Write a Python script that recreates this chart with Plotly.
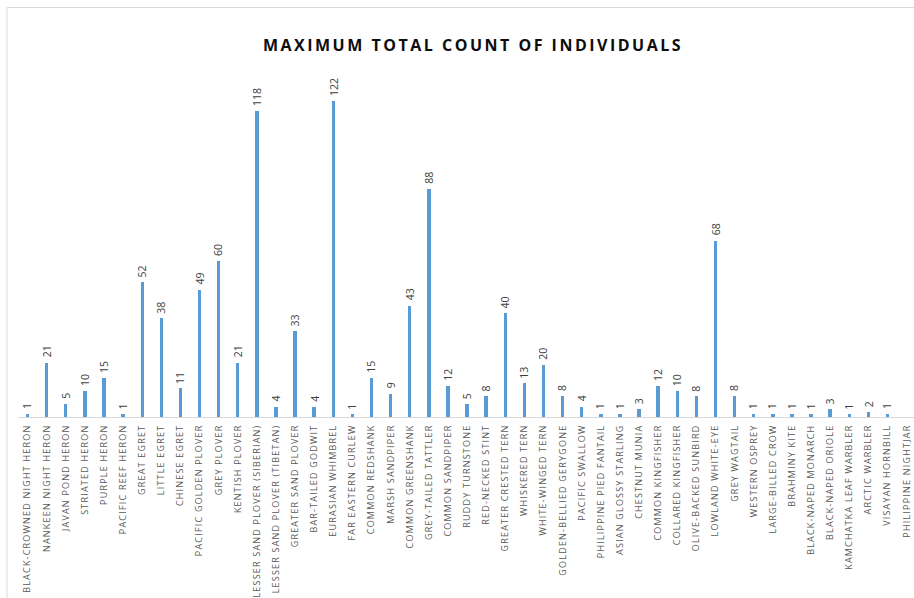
import plotly.graph_objects as go

species = [
    "BLACK-CROWNED NIGHT HERON", "NANKEEN NIGHT HERON", "JAVAN POND HERON",
    "STRIATED HERON", "PURPLE HERON", "PACIFIC REEF HERON", "GREAT EGRET",
    "LITTLE EGRET", "CHINESE EGRET", "PACIFIC GOLDEN PLOVER", "GREY PLOVER",
    "KENTISH PLOVER", "LESSER SAND PLOVER (SIBERIAN)", "LESSER SAND PLOVER (TIBETAN)",
    "GREATER SAND PLOVER", "BAR-TAILED GODWIT", "EURASIAN WHIMBREL",
    "FAR EASTERN CURLEW", "COMMON REDSHANK", "MARSH SANDPIPER",
    "COMMON GREENSHANK", "GREY-TAILED TATTLER", "COMMON SANDPIPER",
    "RUDDY TURNSTONE", "RED-NECKED STINT", "GREATER CRESTED TERN",
    "WHISKERED TERN", "WHITE-WINGED TERN", "GOLDEN-BELLIED GERYGONE",
    "PACIFIC SWALLOW", "PHILIPPINE PIED FANTAIL", "ASIAN GLOSSY STARLING",
    "CHESTNUT MUNIA", "COMMON KINGFISHER", "COLLARED KINGFISHER",
    "OLIVE-BACKED SUNBIRD", "LOWLAND WHITE-EYE", "GREY WAGTAIL",
    "WESTERN OSPREY", "LARGE-BILLED CROW", "BRAHMINY KITE",
    "BLACK-NAPED MONARCH", "BLACK-NAPED ORIOLE", "KAMCHATKA LEAF WARBLER",
    "ARCTIC WARBLER", "VISAYAN HORNBILL", "PHILIPPINE NIGHTJAR",
]

max_counts = [
    1, 21, 5, 10, 15, 1, 52, 38, 11, 49, 60, 21, 118, 4, 33, 4, 122, 1,
    15, 9, 43, 88, 12, 5, 8, 40, 13, 20, 8, 4, 1, 1, 3, 12, 10, 8, 68, 8,
    1, 1, 1, 1, 3, 1, 2, 1, None,
]

W, H = 914, 598
left, bottom, top = 18, 181, 54.4
plot_w = W - left
plot_h = H - bottom - top
step = 19.11  # px per category

fig = go.Figure(
    go.Bar(
        x=species,
        y=max_counts,
        width=0.18,
        marker=dict(color="#5B9BD5", line=dict(width=0)),
        hoverinfo="x+y",
    )
)

# value labels above each bar, rotated to read bottom-to-top
for name, val in zip(species, max_counts):
    if val is None:
        continue
    fig.add_annotation(
        x=name,
        y=val,
        text=str(val),
        textangle=-90,
        showarrow=False,
        xanchor="center",
        yanchor="bottom",
        yshift=3,
        font=dict(family="Open Sans", size=10.5, color="#404040"),
    )

fig.update_layout(
    width=W,
    height=H,
    margin=dict(l=left, r=0, t=top, b=bottom, autoexpand=False),
    paper_bgcolor="white",
    plot_bgcolor="white",
    showlegend=False,
    title=dict(
        text="<b>MAXIMUM TOTAL COUNT OF INDIVIDUALS</b>",
        x=473 / W,
        xanchor="center",
        y=1 - 45 / H,
        yanchor="middle",
        yref="container",
        xref="container",
        font=dict(family="Open Sans", size=16, color="#0D0D0D"),
    ),
    xaxis=dict(
        type="category",
        range=[-0.5, -0.5 + plot_w / step],
        tickangle=-90,
        tickfont=dict(family="Open Sans", size=9, color="#595959"),
        ticklabelstandoff=3,
        showline=True,
        linecolor="#D9D9D9",
        linewidth=1,
        ticks="",
        showgrid=False,
        automargin=False,
    ),
    yaxis=dict(
        range=[0, 140],
        visible=False,
        showgrid=False,
        zeroline=False,
    ),
    bargap=0,
)

# chart frame (left and top edges)
fig.add_shape(
    type="rect",
    xref="paper",
    yref="paper",
    x0=(7 - left) / plot_w,
    x1=1.05,
    y0=-1.0,
    y1=(H - bottom - 8) / plot_h,
    line=dict(color="#D9D9D9", width=1),
    fillcolor="rgba(0,0,0,0)",
    layer="below",
)

# widen the letter spacing of the category labels and the title
spacing_js = """
var gd = document.getElementById('{plot_id}');
function spaceText() {
  gd.querySelectorAll('.xtick text').forEach(function (t) {
    t.style.letterSpacing = '1.2px';
  });
  gd.querySelectorAll('.gtitle').forEach(function (t) {
    t.style.letterSpacing = '2.5px';
  });
}
spaceText();
gd.on('plotly_afterplot', spaceText);
"""

fig.write_html("out.html", post_script=spacing_js)
